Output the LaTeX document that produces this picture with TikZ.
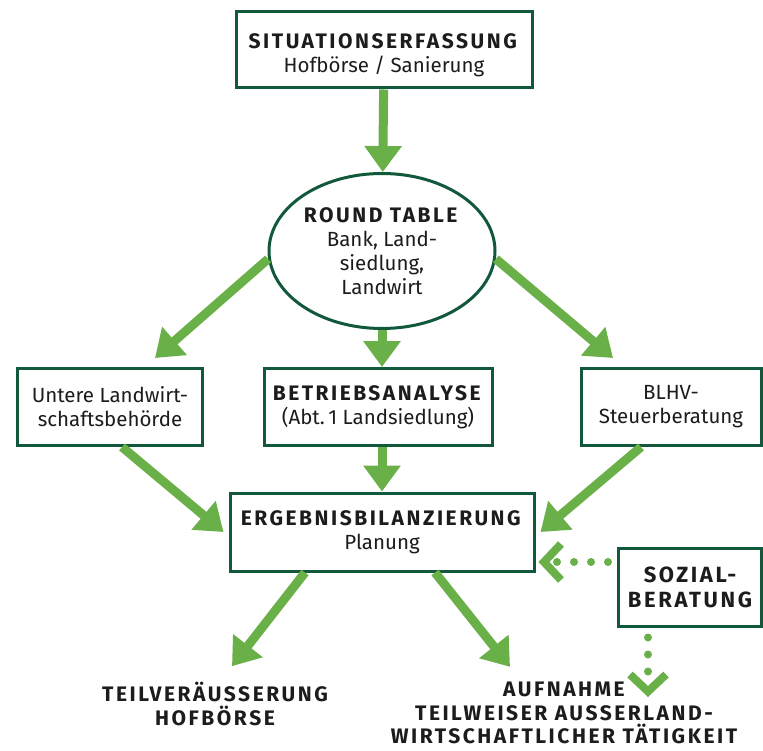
\documentclass[tikz,border=0pt]{standalone}
\usepackage{fontspec}
\setmainfont{Fira Sans}[BoldFeatures={LetterSpace=12}]
\usetikzlibrary{arrows.meta,calc,shapes.geometric}
\definecolor{framegreen}{RGB}{18,88,58}
\definecolor{arrowgreen}{RGB}{106,176,72}
\definecolor{textblack}{RGB}{28,28,28}

\begin{document}
\begin{tikzpicture}[x=1pt,y=-1pt,
      box/.style={draw=framegreen,line width=3pt,fill=white,align=center,inner sep=0pt,
        text=textblack,font=\fontsize{20.5}{24}\selectfont},
      endtext/.style={align=center,inner sep=0pt,text=textblack,font=\fontsize{21}{23.5}\selectfont\bfseries},
      arr/.style={-{Triangle[width=36pt,length=26pt]},line width=9pt,draw=arrowgreen},
      dotarr/.style={-{Straight Barb[width=36pt,length=17pt]},line width=8pt,draw=arrowgreen,
        line cap=round,dash pattern=on 0pt off 17pt}]
    \useasboundingbox (0,0) rectangle (763,751);
    \node[box,minimum width=296pt,minimum height=76pt] (erfassung) at (384,50)
      {\rule{0pt}{26pt}\textbf{\fontsize{21}{24}\selectfont SITUATIONSERFASSUNG}\\Hofbörse / Sanierung};
    \node[box,ellipse,minimum width=226pt,minimum height=155pt] (table) at (382,251)
      {\textbf{\fontsize{21}{24}\selectfont ROUND TABLE}\\Bank, Land-\\siedlung,\\Landwirt};
    \node[box,minimum width=185pt,minimum height=77pt] (behoerde) at (110,407)
      {Untere Landwirt-\\schaftsbehörde};
    \node[box,minimum width=228pt,minimum height=77pt] (analyse) at (378,407)
      {\textbf{\fontsize{21}{24}\selectfont BETRIEBSANALYSE}\\(Abt.\,1 Landsiedlung)};
    \node[box,minimum width=180pt,minimum height=77pt] (steuer) at (671,407)
      {BLHV-\\Steuerberatung};
    \node[box,minimum width=304pt,minimum height=78pt] (bilanz) at (382,532)
      {\textbf{\fontsize{21}{24}\selectfont ERGEBNISBILANZIERUNG}\\Planung};
    \node[box,minimum width=143pt,minimum height=78pt,font=\fontsize{22}{25}\selectfont\bfseries] (sozial) at (690,587)
      {SOZIAL-\\BERATUNG};
    \node[endtext] (verkauf) at (215,704) {TEILVERÄUSSERUNG\\HOFBÖRSE};
    \node[endtext] (aufnahme) at (564,713)
      {AUFNAHME\\TEILWEISER AUSSERLAND-\\WIRTSCHAFTLICHER TÄTIGKEIT};
    \coordinate (hint) at (648,697);
    % arrows
    \draw[arr] (erfassung) -- (table);
    \draw[arr] (table.184) -- ($(behoerde.north)+(45,-9)$);
    \draw[arr] (table.south) -- (table.south |- analyse.north);
    \draw[arr] (table.-4) -- ($(steuer.north)+(-58,-9)$);
    \draw[arr] ($(behoerde.south)+(12,0)$) -- ($(bilanz.west)+(-5,0)$);
    \draw[arr] (analyse.south -| table.south) -- (table.south |- bilanz.north);
    \draw[arr] ($(steuer.south)+(-30,0)$) -- ($(bilanz.east)+(5,0)$);
    \draw[arr] ($(bilanz.south)+(-77,0)$) -- ($(verkauf.north)+(17,-16)$);
    \draw[arr] ($(bilanz.south)+(53,0)$) -- ($(aufnahme.north)+(-54,-15)$);
    \draw[dotarr] ($(sozial.west)+(-9,-25)$) -- ($(bilanz.east)+(3,30)$);
    \draw[dotarr] ($(sozial.south)+(-42,10)$) -- (hint);
  \end{tikzpicture}
\end{document}
